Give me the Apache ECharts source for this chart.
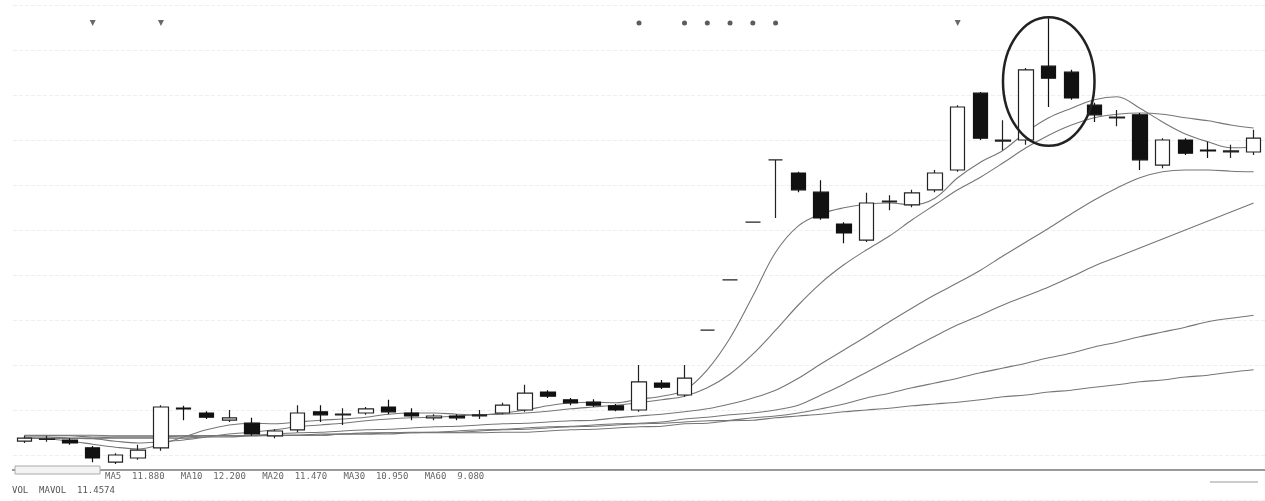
<!DOCTYPE html>
<html>
<head>
<meta charset="utf-8">
<script src="https://cdn.jsdelivr.net/npm/echarts@6/dist/echarts.min.js"></script>
<style>
html,body{margin:0;padding:0;background:#fff;}
#main{width:1265px;height:501px;}
</style>
</head>
<body>
<div id="main"></div>
<script>
// ---- data ----
const categories = Array.from({length: 55}, (_, i) => 'D' + (i + 1));

const openP  = [6.98,7.01,7.00,6.87,6.63,6.70,6.87,7.53,7.45,7.33, 7.28,7.07,7.17,7.47,7.42,7.45,7.55,7.45,7.37,7.40, 7.40,7.45,7.50,7.80,7.67,7.63,7.57,7.50,7.95,7.75, 8.83,9.67,10.63,11.67,11.45,11.13,10.60,10.33,10.97,10.92, 11.17,11.50,12.78,11.98,12.00,13.23,13.13,12.58,12.37,12.42, 11.58,12.00,11.83,11.80,11.80];
const closeP = [7.03,7.02,6.95,6.70,6.75,6.83,7.55,7.52,7.38,7.37, 7.10,7.15,7.45,7.42,7.43,7.52,7.47,7.40,7.40,7.37, 7.42,7.58,7.78,7.73,7.62,7.58,7.50,7.97,7.88,8.03, 8.83,9.67,10.63,11.67,11.17,10.70,10.45,10.95,10.98,11.12, 11.45,12.55,12.03,12.00,13.17,13.03,12.70,12.42,12.38,11.67, 12.00,11.78,11.82,11.82,12.03];
const lowP   = [6.95,6.97,6.92,6.63,6.60,6.67,6.82,7.33,7.35,7.30, 7.07,7.03,7.13,7.30,7.25,7.42,7.43,7.33,7.33,7.33, 7.35,7.43,7.47,7.70,7.58,7.55,7.48,7.47,7.85,7.72, 8.83,9.67,10.63,10.70,11.13,10.67,10.28,10.30,10.83,10.88, 11.13,11.47,12.00,11.83,11.92,12.55,12.67,12.30,12.23,11.50, 11.53,11.75,11.70,11.70,11.75];
const highP  = [7.07,7.07,7.03,6.90,6.78,6.92,7.58,7.57,7.48,7.50, 7.37,7.18,7.58,7.58,7.53,7.55,7.67,7.53,7.43,7.43, 7.50,7.62,7.92,7.83,7.70,7.68,7.60,8.25,8.00,8.25, 8.83,9.67,10.63,11.67,11.47,11.33,10.63,11.12,11.08,11.17, 11.50,12.58,12.80,12.33,13.20,14.03,13.17,12.62,12.50,12.45, 12.03,12.03,11.97,11.92,12.17];

const ma5   = [7.03,7.02,6.98,6.93,6.88,6.85,6.93,7.05,7.17,7.25, 7.28,7.27,7.30,7.33,7.35,7.38,7.43,7.45,7.45,7.43, 7.42,7.45,7.50,7.57,7.62,7.63,7.62,7.68,7.73,7.83, 8.17,8.70,9.40,10.13,10.57,10.77,10.87,10.93,10.95,10.92, 11.03,11.37,11.63,11.83,12.13,12.37,12.53,12.67,12.72,12.53, 12.30,12.10,11.97,11.87,11.88];
const ma10  = [7.05,7.05,7.03,7.02,6.98,6.95,6.97,7.00,7.05,7.10, 7.13,7.17,7.22,7.25,7.28,7.32,7.35,7.37,7.38,7.40, 7.42,7.43,7.45,7.48,7.52,7.55,7.58,7.62,7.67,7.73, 7.87,8.10,8.43,8.83,9.25,9.62,9.92,10.17,10.40,10.67, 10.92,11.17,11.38,11.62,11.87,12.08,12.25,12.37,12.43,12.45, 12.43,12.37,12.32,12.25,12.20];
const ma20  = [7.07,7.07,7.07,7.05,7.05,7.05,7.05,7.05,7.07,7.07, 7.08,7.10,7.12,7.13,7.15,7.17,7.18,7.20,7.22,7.23, 7.25,7.27,7.28,7.30,7.32,7.33,7.37,7.40,7.43,7.47, 7.52,7.60,7.70,7.83,8.03,8.27,8.50,8.73,8.97,9.20, 9.42,9.62,9.83,10.07,10.30,10.53,10.77,11.00,11.20,11.37, 11.47,11.50,11.50,11.48,11.47];
const ma30  = [7.08,7.08,7.08,7.08,7.07,7.07,7.07,7.07,7.07,7.07, 7.07,7.08,7.08,7.10,7.10,7.12,7.12,7.13,7.13,7.15, 7.17,7.18,7.20,7.22,7.23,7.25,7.27,7.28,7.30,7.35, 7.38,7.42,7.45,7.50,7.58,7.75,7.93,8.13,8.33,8.53, 8.73,8.92,9.08,9.25,9.40,9.55,9.72,9.90,10.05,10.20, 10.35,10.50,10.65,10.80,10.95];
const ma60  = [7.03,7.03,7.03,7.03,7.03,7.03,7.03,7.03,7.05,7.05, 7.07,7.07,7.08,7.08,7.10,7.10,7.12,7.12,7.13,7.13, 7.15,7.17,7.18,7.20,7.22,7.23,7.25,7.27,7.28,7.30, 7.32,7.33,7.37,7.40,7.45,7.52,7.60,7.70,7.78,7.87, 7.95,8.03,8.12,8.20,8.28,8.37,8.45,8.55,8.63,8.72, 8.80,8.88,8.97,9.03,9.08];
const ma120 = [7.03,7.03,7.03,7.03,7.05,7.05,7.05,7.07,7.07,7.07, 7.07,7.08,7.08,7.08,7.10,7.10,7.10,7.12,7.12,7.12, 7.12,7.13,7.13,7.15,7.17,7.18,7.20,7.22,7.23,7.27, 7.28,7.32,7.33,7.37,7.40,7.43,7.47,7.50,7.53,7.57, 7.60,7.63,7.67,7.72,7.75,7.80,7.83,7.88,7.92,7.97, 8.00,8.05,8.08,8.13,8.17];

// info markers along the top (category index)
const dotMarkers = [27, 29, 30, 31, 32, 33];
const flagMarkers = [3, 6, 41];
const markerLevel = 13.95;

// circled candles (annotation)
const circledFrom = 44, circledTo = 46;

const legendLine1 = 'MA5  11.880   MA10  12.200   MA20  11.470   MA30  10.950   MA60  9.080';
const legendLine2 = 'VOL  MAVOL  11.4574';

// ---- chart ----
const chart = echarts.init(document.getElementById('main'), null, {renderer: 'canvas'});
const candleData = openP.map((o, i) => [o, closeP[i], lowP[i], highP[i]]);
const lineStyleBase = {width: 1.1, color: '#767676'};
function maSeries(name, data) {
  return {name, type: 'line', data, smooth: 0.35, showSymbol: false, silent: true,
          lineStyle: lineStyleBase, z: 1};
}

chart.setOption({
  animation: false,
  backgroundColor: '#ffffff',
  grid: {left: 13, right: 0, top: 5, bottom: 1},
  xAxis: {type: 'category', data: categories, boundaryGap: true,
          axisLine: {show: false}, axisTick: {show: false}, axisLabel: {show: false}},
  yAxis: {type: 'value', min: 6, max: 14.25, interval: 0.75,
          axisLine: {show: false}, axisTick: {show: false}, axisLabel: {show: false},
          splitLine: {show: true, lineStyle: {color: '#efefef', type: 'dashed', width: 1}}},
  series: [
    maSeries('MA120', ma120),
    maSeries('MA60', ma60),
    maSeries('MA30', ma30),
    maSeries('MA20', ma20),
    maSeries('MA10', ma10),
    maSeries('MA5', ma5),
    {name: 'K', type: 'candlestick', data: candleData, barWidth: 15, z: 3,
     itemStyle: {color: '#ffffff', color0: '#111111', borderColor: '#222222', borderColor0: '#111111', borderWidth: 1.2}},
    {name: 'info', type: 'scatter', symbol: 'circle', symbolSize: 5, silent: true,
     data: dotMarkers.map(i => [i, markerLevel]), itemStyle: {color: '#333'}},
    {name: 'flag', type: 'scatter', symbol: 'triangle', symbolRotate: 180, symbolSize: 6, silent: true,
     data: flagMarkers.map(i => [i, markerLevel]), itemStyle: {color: '#444'}}
  ]
});

// annotation ellipse around circled candles, positioned from data
const pLeft = chart.convertToPixel({gridIndex: 0}, [circledFrom, highP[circledFrom]]);
const pRight = chart.convertToPixel({gridIndex: 0}, [circledTo, highP[circledTo]]);
let hi = -Infinity, lo = Infinity;
for (let i = circledFrom; i <= circledTo; i++) { hi = Math.max(hi, highP[i]); lo = Math.min(lo, lowP[i]); }
const yTop = chart.convertToPixel({gridIndex: 0}, [circledFrom, hi])[1];
const yBot = chart.convertToPixel({gridIndex: 0}, [circledFrom, lo])[1];
const cx = (pLeft[0] + pRight[0]) / 2;
const cy = (yTop + yBot) / 2;
const rx = (pRight[0] - pLeft[0]) / 2 + 23;
const ry = (yBot - yTop) / 2 + 1;

chart.setOption({
  graphic: [
    {type: 'ellipse', shape: {cx, cy, rx, ry}, style: {fill: 'none', stroke: '#222', lineWidth: 2.5}, z: 100},
    {type: 'line', shape: {x1: 12, y1: 470, x2: 1265, y2: 470}, style: {stroke: '#9a9a9a', lineWidth: 2}, z: 50},
    {type: 'rect', shape: {x: 15, y: 466, width: 85, height: 8}, style: {fill: '#f3f3f3', stroke: '#aaa', lineWidth: 1}, z: 50},
    {type: 'text', x: 105, y: 472, style: {text: legendLine1, font: '9px "DejaVu Sans Mono", monospace', fill: '#666'}, z: 50},
    {type: 'text', x: 12, y: 486, style: {text: legendLine2, font: '9px "DejaVu Sans Mono", monospace', fill: '#555'}, z: 50},
    {type: 'line', shape: {x1: 1210, y1: 482, x2: 1258, y2: 482}, style: {stroke: '#ccc', lineWidth: 2}, z: 50}
  ]
});
</script>
</body>
</html>
